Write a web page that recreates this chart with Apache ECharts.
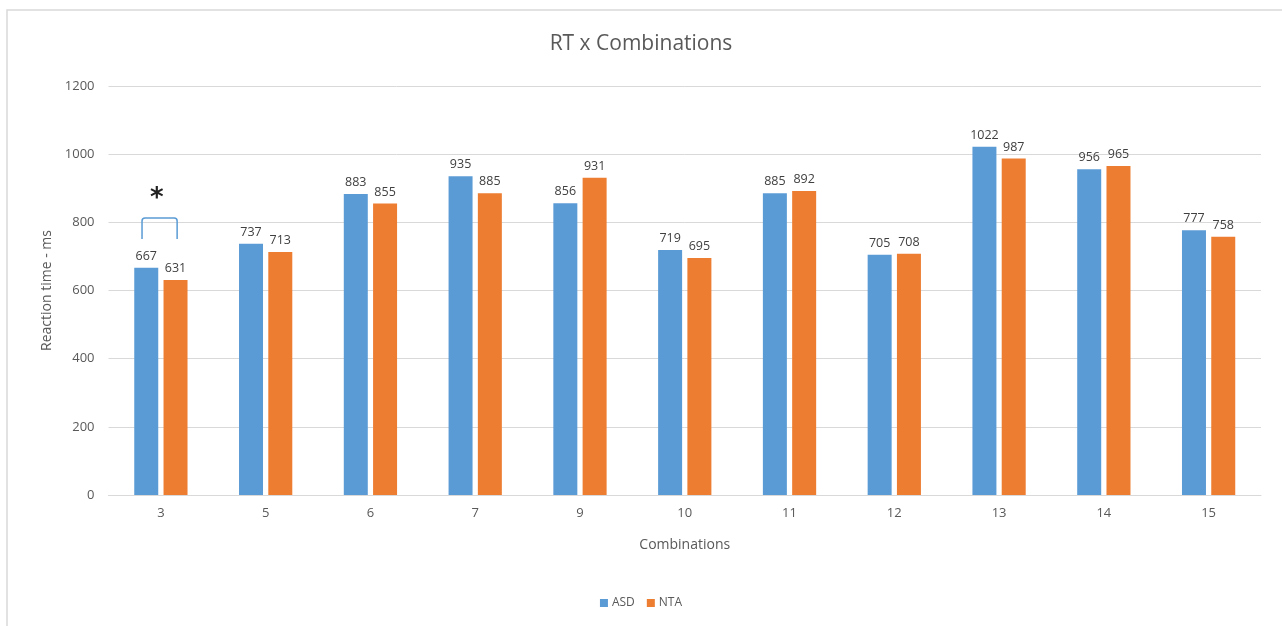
<!DOCTYPE html>
<html>
<head>
<meta charset="utf-8">
<script src="https://cdn.jsdelivr.net/npm/echarts@6/dist/echarts.min.js"></script>
<style>
  html, body { margin: 0; padding: 0; background: #ffffff; }
  #chart { width: 1282px; height: 626px; }
</style>
</head>
<body>
<div id="chart"></div>
<script>
// Mean reaction time per combination, by group
const categories = ['3', '5', '6', '7', '9', '10', '11', '12', '13', '14', '15'];
const asdValues = [667, 737, 883, 935, 856, 719, 885, 705, 1022, 956, 777];
const ntaValues = [631, 713, 855, 885, 931, 695, 892, 708, 987, 965, 758];
const yTicks = [0, 200, 400, 600, 800, 1000, 1200];
// Significant difference marker: category, bracket top and leg ends (ms), star height (ms)
const significance = [['3', 813, 751, 868]];

const FONT = '"Open Sans", "Liberation Sans", sans-serif';
const TEXT = '#595959';

const chart = echarts.init(document.getElementById('chart'), null, { renderer: 'canvas' });

chart.setOption({
  backgroundColor: '#ffffff',
  animation: false,
  textStyle: { fontFamily: FONT },
  graphic: [{
    type: 'rect',
    silent: true,
    shape: { x: 7, y: 10, width: 1300, height: 640 },
    style: { fill: 'none', stroke: '#d9d9d9', lineWidth: 1.5 }
  }],
  title: {
    text: 'RT x Combinations',
    left: 'center',
    top: 29,
    textStyle: { fontFamily: FONT, fontSize: 21, fontWeight: 'normal', color: TEXT }
  },
  legend: {
    data: ['ASD', 'NTA'],
    left: 'center',
    top: 592,
    itemWidth: 8,
    itemHeight: 8,
    itemGap: 12,
    icon: 'rect',
    textStyle: { fontFamily: FONT, fontSize: 12, color: TEXT, padding: [0, 0, 0, -1] }
  },
  grid: { left: 108.5, right: 21, top: 86, bottom: 131, containLabel: false },
  xAxis: {
    type: 'category',
    data: categories,
    name: 'Combinations',
    nameLocation: 'middle',
    nameGap: 43,
    nameTextStyle: { fontFamily: FONT, fontSize: 14, color: TEXT },
    axisLine: { lineStyle: { color: '#d9d9d9', width: 1 } },
    axisTick: { show: false },
    axisLabel: { fontFamily: FONT, fontSize: 13, color: TEXT, margin: 12 }
  },
  yAxis: {
    type: 'value',
    min: yTicks[0],
    max: yTicks[yTicks.length - 1],
    interval: yTicks[1] - yTicks[0],
    name: 'Reaction time - ms',
    nameLocation: 'middle',
    nameGap: 54,
    nameTextStyle: { fontFamily: FONT, fontSize: 14, color: TEXT },
    axisLine: { show: false },
    axisTick: { show: false },
    axisLabel: {
      fontFamily: FONT, fontSize: 13, color: TEXT, margin: 14,
      formatter: function (v) { return String(v); }
    },
    splitLine: { lineStyle: { color: '#d9d9d9', width: 1 } }
  },
  series: [
    {
      name: 'ASD',
      type: 'bar',
      data: asdValues,
      barWidth: 24,
      barGap: '22%',
      itemStyle: { color: '#5b9bd5' },
      label: { show: true, position: 'top', distance: 5, fontFamily: FONT, fontSize: 12.5, color: '#404040' }
    },
    {
      name: 'NTA',
      type: 'bar',
      data: ntaValues,
      barWidth: 24,
      barGap: '22%',
      itemStyle: { color: '#ed7d31' },
      label: { show: true, position: 'top', distance: 5, fontFamily: FONT, fontSize: 12.5, color: '#404040' }
    },
    {
      name: 'significance',
      type: 'custom',
      silent: true,
      z: 5,
      data: significance,
      encode: { x: 0, y: 1 },
      renderItem: function (params, api) {
        const cat = api.value(0);
        const top = api.coord([cat, api.value(1)]);
        const leg = api.coord([cat, api.value(2)]);
        const star = api.coord([cat, api.value(3)]);
        const band = api.size([1, 0])[0];
        const x0 = top[0] - band * 0.18;
        const x1 = top[0] + band * 0.155;
        const r = 3;
        return {
          type: 'group',
          children: [
            {
              type: 'path',
              shape: {
                pathData: 'M' + x0 + ' ' + leg[1] +
                  ' L' + x0 + ' ' + (top[1] + r) +
                  ' Q' + x0 + ' ' + top[1] + ' ' + (x0 + r) + ' ' + top[1] +
                  ' L' + (x1 - r) + ' ' + top[1] +
                  ' Q' + x1 + ' ' + top[1] + ' ' + x1 + ' ' + (top[1] + r) +
                  ' L' + x1 + ' ' + leg[1]
              },
              style: { fill: 'none', stroke: '#5b9bd5', lineWidth: 1.5 }
            },
            {
              type: 'text',
              x: star[0] - band * 0.04,
              y: star[1],
              style: {
                text: '*',
                fontFamily: '"DejaVu Sans", sans-serif',
                fontSize: 26,
                fontWeight: 'bold',
                fill: '#222222',
                align: 'center',
                verticalAlign: 'middle'
              }
            }
          ]
        };
      }
    }
  ]
});
</script>
</body>
</html>
